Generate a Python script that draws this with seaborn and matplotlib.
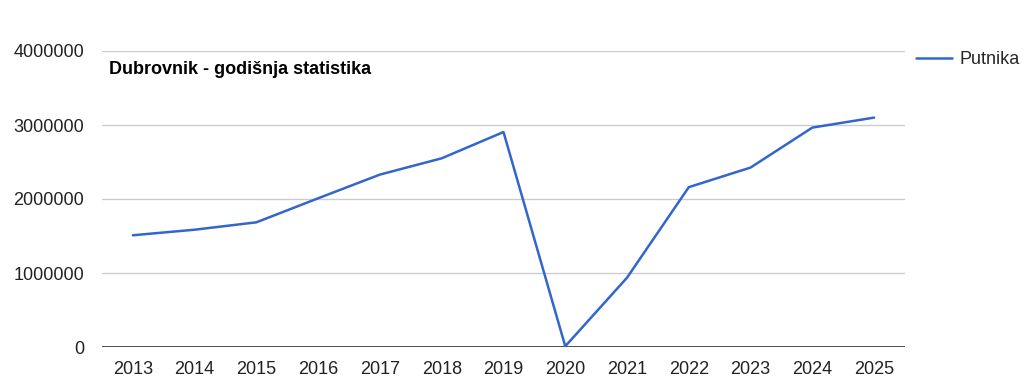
import matplotlib
matplotlib.use("Agg")
import matplotlib.pyplot as plt
import matplotlib.ticker as mticker
import pandas as pd
import seaborn as sns

# data
years = ["2013", "2014", "2015", "2016", "2017", "2018", "2019",
         "2020", "2021", "2022", "2023", "2024", "2025"]
putnika = [1510000, 1585000, 1685000, 2010000, 2330000, 2550000, 2905000,
           10000, 937000, 2160000, 2425000, 2965000, 3100000]
yticks = [0, 1000000, 2000000, 3000000, 4000000]

sns.set_theme(style="white")
plt.rcParams["font.family"] = ["Liberation Sans", "DejaVu Sans"]
plt.rcParams["font.size"] = 13

df = pd.DataFrame({"Godina": years, "Putnika": putnika})

W, H = 1024, 391
fig = plt.figure(figsize=(W / 100, H / 100), dpi=100)
ax = fig.add_axes([102 / W, (H - 347) / H, (905 - 102) / W, (347 - 51) / H])

ax.yaxis.grid(True, color="#cccccc", linewidth=1)
ax.set_axisbelow(True)
sns.lineplot(data=df, x="Godina", y="Putnika", sort=False, ax=ax,
             color="#3366cc", linewidth=1.8, label="Putnika")

ax.axhline(0, color="#333333", linewidth=1.2, zorder=1)
ax.set_xlim(-0.5, len(years) - 0.5)
ax.set_ylim(0, 4000000)
ax.set_yticks(yticks)
ax.yaxis.set_major_formatter(mticker.FuncFormatter(lambda v, p: f"{int(v)}"))
ax.set_xlabel("")
ax.set_ylabel("")
for s in ax.spines.values():
    s.set_visible(False)
ax.tick_params(axis="both", length=0, labelsize=13, colors="#222222")
ax.tick_params(axis="y", pad=13)
ax.tick_params(axis="x", pad=10)

ax.text(0.009, 0.936, "Dubrovnik - godišnja statistika",
        transform=ax.transAxes, fontsize=13, fontweight="bold",
        color="#000000", va="center", ha="left")

# legend pulled a few px left so "Putnika" fits inside the figure
ax.legend(loc="center left", bbox_to_anchor=(909 / W, (H - 60) / H),
          bbox_transform=fig.transFigure, frameon=False, fontsize=13,
          handlelength=2.0, handletextpad=0.4, borderaxespad=0)

fig.savefig("out.png", dpi=100)
plt.close(fig)
